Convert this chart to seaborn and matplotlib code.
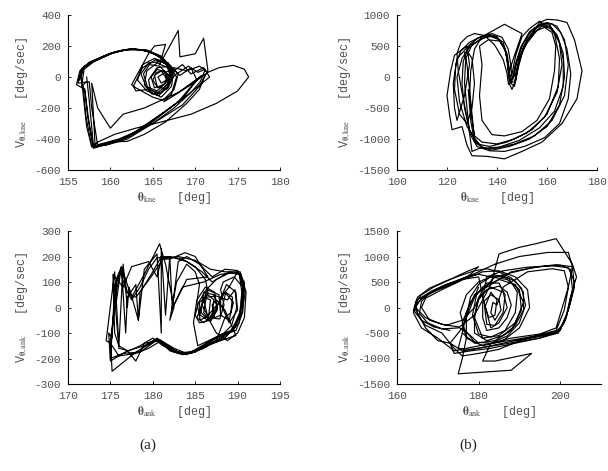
import matplotlib
matplotlib.use("Agg")
import matplotlib.pyplot as plt
import seaborn as sns

# knee, condition (a)
kne_a_x = [156.3, 156.8, 158.0, 160.0, 162.0, 164.0, 165.5, 166.8, 167.2, 166.5, 165.5, 164.2, 163.6, 164.5, 166.0, 167.5, 167.2, 166.0, 164.8, 164.5, 165.5, 167.0, 168.2, 169.5, 170.2, 168.5, 165.5, 162.5, 160.0, 158.0, 157.5, 157.0, 156.5,
           156.9, 158.5, 160.5, 162.5, 164.5, 166.2, 167.3, 166.8, 165.7, 164.3, 163.2, 163.8, 165.2, 166.8, 168.0, 167.5, 166.2, 165.0, 163.0, 162.5, 164.5, 165.2, 166.5, 165.8, 168.0, 168.2, 170.0, 171.0, 171.5, 170.5, 168.5, 165.0, 161.0, 158.5, 157.8, 157.5,
           156.2, 156.6, 157.5, 159.5, 161.5, 163.5, 165.2, 166.5, 167.0, 166.3, 165.2, 164.8, 165.5, 166.5, 166.6, 166.0, 165.6, 166.2, 167.5, 169.0, 170.5, 171.5, 172.8, 174.5, 175.8, 176.3, 175.0, 172.5, 169.5, 166.0, 163.0, 160.5, 158.5, 157.8, 157.2, 156.8,
           156.5, 157.8, 160.0, 162.2, 164.2, 165.8, 167.0, 166.9, 166.0, 164.9, 164.0, 164.3, 165.5, 166.8, 167.3, 166.6, 165.5, 165.2, 166.0, 166.5, 168.5, 169.5, 171.0, 171.7, 170.8, 169.0, 166.5, 163.0, 161.5, 158.0, 157.3, 157.0,
           156.0, 156.4, 157.5, 159.0, 161.0, 163.0, 164.8, 166.4, 167.1, 166.7, 165.6, 164.4, 163.0, 162.7, 163.8, 165.3, 166.9, 167.8, 167.2, 166.3, 167.5, 169.5, 170.8, 168.0, 164.0, 161.5, 160.0, 158.5, 157.8, 158.2, 160.0, 162.0, 164.0, 166.5, 169.0, 170.5, 171.2,
           170.0, 168.0, 164.0, 161.0, 158.0, 157.5, 157.2]
kne_a_y = [-20, 60, 100, 150, 178, 172, 140, 90, 30, -40, -90, -60, 20, 90, 100, 50, -60, -130, -100, -20, 60, 70, 10, 60, -20, -140, -260, -380, -430, -455, -300, -100, -10,
           70, 110, 160, 182, 168, 120, 40, -60, -120, -90, -20, 80, 120, 90, 20, -80, -150, -130, -70, -50, 150, 200, 210, 80, 300, 130, 150, 250, 40, -60, -180, -300, -410, -440, -200, -30,
           -40, 50, 90, 140, 175, 178, 150, 100, 20, -50, -70, 0, 50, 30, -20, -40, 0, 20, 60, 40, 70, 30, 60, 75, 50, 0, -90, -170, -240, -290, -330, -370, -420, -450, -320, -120,
           40, 100, 155, 180, 175, 130, 60, -30, -100, -110, -50, 40, 90, 60, -10, -80, -60, 10, 40, 0, 80, 20, 60, 0, -40, -120, -220, -350, -400, -460, -250, -80,
           -50, 40, 95, 130, 170, 180, 160, 110, 40, -50, -100, -80, -90, -60, 60, 110, 80, 0, -110, -160, -120, -50, 10, -100, -200, -240, -330, -200, -40, -450, -420, -415, -370, -290, -170, -80, 20,
           -30, -160, -330, -400, -445, -150, 0]
kne_a_x2 = [157.2, 156.6, 156.9, 158.2, 160.2, 162.4, 164.4, 166.0, 167.0, 167.4, 166.8, 165.6, 164.4, 163.9, 164.6, 165.8, 166.7, 166.5, 165.6, 165.0,
            165.4, 166.3, 167.0, 166.8, 167.8, 169.2, 170.3, 171.2, 170.6, 169.5, 167.5, 165.0, 162.0, 159.5, 157.8, 157.1, 156.8]
kne_a_y2 = [-30, -60, 50, 105, 155, 180, 172, 135, 70, 0, -70, -110, -70, 20, 80, 70, 20, -40, -70, -20,
            30, 40, 0, -30, 20, 70, 30, 50, -30, -100, -200, -300, -400, -440, -450, -250, -60]

# knee, condition (b)
kne_b_x = [133, 128, 125, 124, 126, 129, 133, 137, 141, 143.5, 144.5, 145, 146.5, 148, 151, 155, 158, 162, 165, 166, 164, 159, 152, 144, 137, 132,
           129, 127, 126, 126.5, 128, 130, 131, 130, 128, 125, 123, 123.5, 125.5, 129, 134, 138, 142, 144.5, 145.5, 146, 147.5, 149, 152, 156, 160, 164, 167, 168.5, 167, 162, 155, 147, 139, 133,
           130, 129, 128, 127, 127.5, 130, 135, 139, 142.5, 144, 144.5, 145.5, 147, 148.5, 150.5, 154, 157, 160, 164, 168, 171, 174, 172, 166, 158, 150, 143, 136, 130, 128,
           126, 122, 121, 120, 121.5, 123, 128, 129, 127, 124, 123, 122.5, 124, 127.5, 132, 136, 140, 143, 144.5, 145, 146, 147.5, 150, 153, 157, 158, 161, 163, 165, 164.5, 160, 154, 147, 140, 134, 131,
           130, 129, 129.5, 131, 134, 143, 150, 147, 145, 144.8, 146, 147.5, 149, 152, 156, 159, 162, 163.5, 163, 161, 156, 150, 143, 138, 134, 133, 134, 133,
           136.5, 141, 144, 145, 145.3, 147, 148.5, 151, 154.5, 157.5, 161, 164, 166.5, 167, 165, 160, 153, 145, 138, 134, 131, 130, 129, 128, 127]
kne_b_y = [-1100, -800, -400, 0, 300, 480, 600, 660, 600, 420, 150, -50, -20, 250, 500, 720, 820, 780, 550, 200, -250, -650, -900, -1050, -1120, -1080,
           -850, -500, -100, 250, 420, 300, -100, -500, -750, -600, -200, 200, 420, 560, 660, 700, 640, 450, 200, -30, 50, 320, 600, 800, 880, 820, 600, 200, -300, -700, -950, -1080, -1150, -1150,
           -1200, -900, -500, -100, 300, 520, 640, 660, 560, 300, 50, -100, -150, 150, 450, 700, 880, 930, 920, 880, 600, 100, -350, -750, -1050, -1200, -1320, -1280, -1270, -1100,
           -800, -850, -600, -300, 100, 350, 500, 200, -300, -700, -500, -100, 300, 450, 620, 680, 640, 480, 200, 0, 50, 350, 650, 780, 900, 860, 850, 700, 300, -150, -600, -850, -1000, -1080, -1050, -950,
           -700, -300, 100, 450, 650, 850, 700, 350, 100, -100, -200, -50, 300, 550, 750, 800, 720, 500, 100, -350, -700, -880, -950, -930, -700, -300, 200, 500,
           600, 580, 380, 100, -80, -80, 200, 520, 740, 850, 820, 680, 380, 0, -450, -800, -1000, -1120, -1180, -1130, -1000, -600, -200, 200, 400]
kne_b_x2 = [127, 129, 132.5, 136.5, 140, 143, 144.5, 145.2, 146.3, 147.8, 150.5, 154, 158, 162, 165.5, 168, 169.5, 168.5, 165, 159,
            151, 143, 137, 132, 129, 127.5, 126, 124.5, 124, 125.5, 128, 131, 135, 139, 142.5, 144, 144.6, 145.8, 147.2, 149.5,
            153, 157, 161, 164.5, 166.5, 166.5, 163, 157, 149, 141, 135, 131, 129.5, 128.5]
kne_b_y2 = [350, 520, 630, 690, 650, 480, 200, -60, -40, 250, 540, 760, 870, 860, 720, 450, 50, -350, -750, -980,
            -1120, -1200, -1190, -1120, -900, -550, -250, 100, 380, 550, 650, 700, 670, 520, 280, 60, -120, -90, 180, 480,
            730, 840, 800, 620, 280, -150, -550, -820, -1020, -1130, -1150, -1050, -700, -200]

# ankle, condition (a)
ank_a_x = [175.0, 175.3, 175.8, 176.3, 177.0, 177.5, 178.5, 179.5, 180.5, 182.0, 183.5, 185.0, 186.2, 186.5, 185.8, 185.2, 186.0, 187.0, 187.2, 186.5, 185.5, 185.6, 186.5, 187.5, 188.5, 189.5, 189.0, 188.0, 188.0, 189.0, 190.0, 190.8, 190.5, 189.5, 188.5, 187.0, 185.5, 184.0, 182.5, 181.0, 179.5, 178.0, 176.0, 175.0,
           174.5, 175.5, 176.0, 176.5, 177.0, 177.2, 178.3, 179.0, 180.5, 181.0, 181.0, 181.5, 182.0, 182.3, 183.0, 184.0, 185.5, 187.0, 188.5, 190.0, 190.8, 190.6, 189.8, 188.0, 186.5, 185.0, 183.5, 182.0, 180.8, 179.0, 178.0, 177.0, 175.0, 174.8,
           175.2, 175.5, 176.4, 177.5, 179.0, 180.8, 181.5, 182.5, 182.0, 182.8, 184.0, 185.0, 185.5, 185.2, 185.6, 186.6, 186.8, 185.9, 185.7, 186.3, 187.8, 188.7, 189.8, 190.0, 189.0, 188.2, 188.6, 189.4, 189.2, 188.5, 187.5, 186.0, 184.5, 183.0, 181.5, 180.5, 179.0, 177.0, 176.0, 175.5,
           175.3, 176.5, 177.5, 179.5, 180.5, 181.0, 182.0, 183.8, 185.0, 186.5, 184.0, 182.2, 183.5, 186.0, 188.0, 190.3, 191.0, 190.8, 190.0, 188.8, 187.5, 186.5, 186.0, 186.4, 187.8, 188.0, 187.3, 187.0, 187.5, 188.5, 189.8, 188.0, 186.0, 184.0, 182.0, 180.5, 178.0, 175.2, 175.0,
           175.8, 176.3, 176.8, 177.0, 178.0, 178.3, 178.5, 180.0, 181.0, 182.5, 184.0, 185.8, 187.0, 189.0, 190.2, 190.5, 190.2, 189.3, 188.0, 186.8, 185.0, 183.5, 181.8, 180.6, 178.5, 176.5, 175.0]
ank_a_y = [-200, -50, 120, 160, 60, 30, 80, 150, 195, 200, 190, 160, 110, 60, 10, -40, -60, -30, 30, 50, 20, -30, -50, 0, 60, 20, -50, -30, 40, 80, 140, 100, 0, -80, -120, -140, -165, -180, -160, -130, -160, -180, -190, -140,
           -130, 140, -150, 170, 0, 80, -50, 150, 210, -100, 230, -30, 200, 0, 180, 200, 170, 120, 150, 145, 80, -20, -90, -110, -140, -170, -185, -170, -130, -140, -210, -170, -210, -100,
           -120, 90, 150, 40, 130, 250, 170, 0, -50, 100, 170, 140, 90, 20, -50, -30, 30, 40, -20, -40, 20, 90, 60, -10, -60, 0, 60, 40, -20, -40, -130, -160, -180, -175, -145, -120, -150, -170, -150, -100,
           130, 80, 160, 180, 120, 190, 190, 215, 200, 120, 110, -10, 80, 100, 130, 140, 60, -40, -100, -130, -100, -40, 30, 70, 50, -30, -40, 10, 30, -10, -110, -130, -155, -185, -165, -125, -175, -250, -130,
           80, 160, -100, 40, 90, -50, 60, 140, 200, 195, 180, 140, 100, 140, 130, 60, -40, -90, -115, -130, -175, -180, -160, -125, -175, -180, -200]
ank_a_x2 = [180.8, 182.5, 184.5, 186.5, 188.0, 189.5, 190.5, 190.9, 190.4, 189.0, 187.5, 186.3, 185.4, 185.0, 185.5, 186.8, 187.6, 187.2, 186.0, 185.8,
            186.6, 187.9, 188.4, 188.0, 188.3, 189.6, 190.6, 190.2, 188.6, 187.0, 185.0, 183.0, 181.2, 180.0, 178.5, 177.2, 176.0, 175.6, 176.2, 176.9,
            178.0, 179.8, 181.2, 183.0, 185.0, 186.8, 188.5, 190.1, 190.7, 190.3, 189.2, 187.8, 186.6, 185.3, 184.8, 185.2, 186.2, 187.3, 187.6, 186.8,
            186.0, 186.3, 187.5, 188.8, 189.7, 189.9, 189.3, 188.4, 187.3, 185.8, 184.2, 182.6, 181.0]
ank_a_y2 = [-125, -175, -180, -150, -120, -90, -20, 60, 130, 135, 110, 70, 20, -30, -60, -50, 0, 50, 60, 10,
            -40, -45, 10, 70, 100, 120, 80, -60, -115, -135, -170, -180, -150, -120, -150, -170, -160, 0, 140, 60,
            40, 120, 190, 200, 185, 150, 140, 140, 70, -30, -90, -110, -130, -150, -60, 30, 80, 60, -10, -55,
            -20, 40, 45, 30, 70, 0, -70, -100, -120, -150, -180, -175, -140]

# ankle, condition (b)
ank_b_x = [180, 178, 175, 171, 167, 164.5, 166, 170, 174, 178, 181, 185, 189, 192, 192.5, 190, 186, 181, 177, 176, 178, 181, 185, 189, 191, 189, 185, 181, 179, 180, 183, 186, 187, 185, 183, 182,
           181, 182, 186, 192, 198, 202, 203.5, 202.5, 201, 199, 194, 188, 182, 177, 174, 170, 166, 164, 165, 168, 172, 177, 180, 183, 187, 190, 190.5, 188, 184, 179, 176, 177, 179, 183,
           185, 190, 194, 199, 201, 203, 204, 202.5, 201.5, 199.5, 196, 190, 185, 180, 176, 174, 171, 167, 164, 165, 168, 172, 176, 180, 184, 190, 197, 202, 203, 202, 200.5, 199, 195, 188, 183, 181, 184, 193, 188, 175, 176, 177,
           177, 178, 180, 183, 186, 189, 191, 191, 189, 186, 182, 179, 179, 180, 182, 185, 187, 188, 187, 185, 182, 181, 181, 183, 185, 185.5, 184, 183, 183.5, 184.5, 186, 192, 198, 201, 202, 201, 199, 192, 186, 180, 176, 173,
           170, 167, 165, 164.5, 166, 169, 173, 177, 180, 178, 175, 171, 167, 166, 168, 172, 176, 179, 181, 184, 188, 193, 199, 203, 203.5, 202, 200, 195, 189, 183, 178, 174, 173, 176, 178, 180]
ank_b_y = [-700, -550, -380, -330, -200, 0, 180, 350, 480, 600, 700, 720, 600, 350, 0, -400, -650, -750, -600, -300, 100, 400, 550, 450, 100, -300, -550, -600, -200, 200, 400, 300, 0, -300, -400, -100,
           200, 600, 720, 790, 820, 780, 500, 100, -300, -480, -560, -640, -720, -800, -850, -600, -400, -100, 150, 300, 450, 600, 650, 600, 550, 350, -50, -450, -650, -700, -500, -100, 250, 450,
           1050, 1180, 1250, 1350, 1100, 850, 600, 200, -200, -500, -550, -650, -820, -900, -950, -800, -500, -350, -50, 100, 280, 420, 560, 700, 850, 1000, 1080, 1080, 800, 400, 0, -400, -520, -600, -700, -1050, -1050, -900, -1230, -1300, -1000, -600,
           -200, 200, 450, 600, 620, 520, 300, -50, -350, -550, -650, -500, -150, 150, 350, 420, 300, 50, -200, -400, -450, -200, 100, 250, 150, -50, -250, -100, 100, 50, 400, 700, 760, 720, 400, -50, -450, -600, -700, -800, -850, -700,
           -650, -400, -100, 100, 250, 400, 550, 700, 800, 650, 500, 350, 180, 0, -250, -350, -250, 0, 350, 600, 680, 780, 840, 800, 400, -50, -450, -600, -700, -800, -850, -900, -700, -400, 0, 400]
ank_b_x2 = [173, 169, 166, 164.2, 165, 168, 172, 176, 179, 182, 185, 188, 190.5, 191.5, 190, 187, 183, 179, 176.5, 175.5,
            177, 180, 184, 187.5, 189.5, 189, 186.5, 183, 180, 178.5, 179.5, 182, 185, 186.5, 186, 184, 182, 181.5, 183, 184.5,
            184, 182.5, 181.5, 180, 176, 172, 168.5, 166, 165.5, 167.5, 171, 175, 179, 183, 188, 195, 200, 202.5, 203, 201.5,
            199.5, 195, 189, 183, 178, 175, 176]
ank_b_y2 = [-450, -380, -250, 0, 200, 380, 520, 640, 720, 760, 700, 580, 380, 50, -300, -560, -700, -680, -420, -100,
            250, 500, 640, 560, 300, -100, -450, -580, -520, -150, 250, 480, 480, 250, -100, -350, -330, 0, 300, 150,
            -150, -200, 50, 600, 550, 450, 320, 120, -120, -300, -420, -400, -150, 450, 700, 800, 830, 750, 350, -150,
            -500, -600, -680, -760, -820, -800, -500]

mono = "Liberation Mono"
gray = "#505050"
plt.rcParams["mathtext.fontset"] = "stix"
plt.rcParams["axes.unicode_minus"] = False

sns.set_style("ticks")
plt.rcParams["font.family"] = [mono, "DejaVu Sans"]

fig = plt.figure(figsize=(6.08, 4.71), dpi=100)
W, H = 608.0, 471.0


def make_ax(left, right, top, bottom):
    return fig.add_axes([left / W, 1 - bottom / H, (right - left) / W, (bottom - top) / H])


def style(ax, xlim, xticks, ylim, yticks, joint):
    ax.set_xlim(*xlim)
    ax.set_ylim(*ylim)
    ax.set_xticks(xticks)
    ax.set_yticks(yticks)
    for s in ["top", "right"]:
        ax.spines[s].set_visible(False)
    for s in ["left", "bottom"]:
        ax.spines[s].set_linewidth(0.8)
        ax.spines[s].set_color("black")
    ax.tick_params(direction="in", length=2.5, width=0.6, color="black",
                   labelsize=8, labelcolor=gray, pad=5)
    for lab in ax.get_xticklabels() + ax.get_yticklabels():
        lab.set_fontfamily(mono)
    ax.set_xlabel(r"$\mathbf{\theta}_{\mathrm{" + joint + r"}}$   [deg]",
                  fontsize=8.5, color=gray, labelpad=2)
    ax.set_ylabel(r"V$_{\mathbf{\theta},\mathrm{" + joint + r"}}$   [deg/sec]",
                  fontsize=8.5, color=gray, labelpad=3)


def draw(ax, xs, ys):
    sns.lineplot(x=xs, y=ys, sort=False, estimator=None, ax=ax,
                 color="black", linewidth=0.85)


ax1 = make_ax(68, 280, 15, 170)
draw(ax1, kne_a_x, kne_a_y)
draw(ax1, kne_a_x2, kne_a_y2)
style(ax1, (155, 180), [155, 160, 165, 170, 175, 180], (-600, 400),
      [-600, -400, -200, 0, 200, 400], "kne")

ax2 = make_ax(397, 597, 15, 170)
draw(ax2, kne_b_x, kne_b_y)
draw(ax2, kne_b_x2, kne_b_y2)
style(ax2, (100, 180), [100, 120, 140, 160, 180], (-1500, 1000),
      [-1500, -1000, -500, 0, 500, 1000], "kne")

ax3 = make_ax(68, 280, 231, 384)
draw(ax3, ank_a_x, ank_a_y)
draw(ax3, ank_a_x2, ank_a_y2)
style(ax3, (170, 195), [170, 175, 180, 185, 190, 195], (-300, 300),
      [-300, -200, -100, 0, 100, 200, 300], "ank")

ax4 = make_ax(397, 601, 231, 384)
draw(ax4, ank_b_x, ank_b_y)
draw(ax4, ank_b_x2, ank_b_y2)
style(ax4, (160, 210), [160, 180, 200], (-1500, 1500),
      [-1500, -1000, -500, 0, 500, 1000, 1500], "ank")

fig.text(148 / W, 1 - 445 / H, "(a)", ha="center", va="center",
         fontsize=11, family="Liberation Serif")
fig.text(468 / W, 1 - 445 / H, "(b)", ha="center", va="center",
         fontsize=11, family="Liberation Serif")

fig.savefig("out.png", dpi=100, facecolor="white")
